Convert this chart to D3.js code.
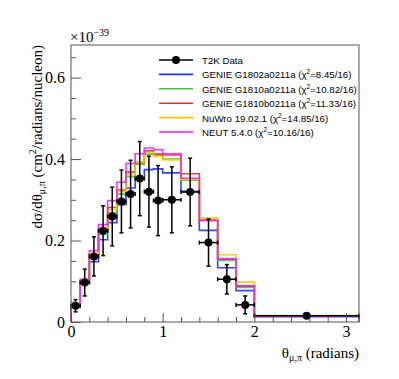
<!DOCTYPE html>
<html><head><meta charset="utf-8">
<script src="https://cdn.jsdelivr.net/npm/d3@7/dist/d3.min.js"></script>
<style>body{margin:0;background:#fff}svg{display:block}</style>
</head><body><svg id="c" width="399" height="379"></svg>
<script>
const binEdges = [0,0.1,0.2,0.3,0.4,0.5,0.6,0.7,0.8,0.9,1.0,1.2,1.4,1.6,1.8,2.0,Math.PI];
const dataValues = [0.040,0.097,0.161,0.224,0.259,0.296,0.314,0.352,0.320,0.298,0.300,0.319,0.195,0.105,0.042,0.0155];
const dataErrors = [0.015,0.033,0.048,0.061,0.072,0.077,0.083,0.091,0.087,0.086,0.081,0.083,0.058,0.036,0.022,0.003];
const genieG1802a = [0.036,0.095,0.148,0.202,0.244,0.288,0.329,0.351,0.374,0.376,0.366,0.321,0.225,0.133,0.077,0.013];
const genieG1810a = [0.038,0.097,0.163,0.215,0.268,0.314,0.357,0.387,0.412,0.410,0.400,0.348,0.250,0.151,0.085,0.014];
const genieG1810b = [0.038,0.098,0.165,0.225,0.281,0.324,0.368,0.391,0.420,0.412,0.410,0.364,0.249,0.155,0.088,0.014];
const nuwro = [0.037,0.098,0.168,0.230,0.276,0.320,0.362,0.393,0.416,0.406,0.398,0.350,0.255,0.165,0.098,0.016];
const neut = [0.042,0.105,0.175,0.239,0.298,0.343,0.389,0.413,0.427,0.423,0.413,0.353,0.249,0.155,0.089,0.015];
const seriesNames = ["GENIE G1802a0211a","GENIE G1810a0211a","GENIE G1810b0211a","NuWro 19.02.1","NEUT 5.4.0"];
const chi2Labels = ["8.45/16","10.82/16","11.33/16","14.85/16","10.16/16"];
const seriesColors = ["#1f2fff","#3cc43c","#e03030","#ffc800","#ee22ee"];
const yTicks = [0,0.2,0.4,0.6];
const xTicks = [0,1,2,3];

const svg = d3.select("#c");
const L=71,R=359,T=45,B=322;
const x = d3.scaleLinear().domain([0,Math.PI]).range([L,R]);
const y = d3.scaleLinear().domain([0,0.68]).range([B,T]);
const serif = "'Liberation Serif','Times New Roman',serif";
const sans = "'Liberation Sans',Arial,Helvetica,sans-serif";

const series = [genieG1802a,genieG1810a,genieG1810b,nuwro,neut];

// histograms
series.forEach((vals,si)=>{
  const pts = [[binEdges[0],0]];
  vals.forEach((v,i)=>{ pts.push([binEdges[i],v]); pts.push([binEdges[i+1],v]); });
  pts.push([binEdges[binEdges.length-1],0]);
  svg.append("path").attr("d", d3.line().x(d=>x(d[0])).y(d=>y(d[1]))(pts))
    .attr("fill","none").attr("stroke",seriesColors[si]).attr("stroke-width",1.6).attr("stroke-opacity",0.9);
});

// data points
const dg = svg.append("g").attr("stroke","#000").attr("stroke-width",1.5);
dataValues.forEach((v,i)=>{
  const x0=x(binEdges[i]), x1=x(binEdges[i+1]), xc=(x0+x1)/2;
  const yc=y(v), ylo=y(v-dataErrors[i]), yhi=y(v+dataErrors[i]);
  const cap=2;
  dg.append("line").attr("x1",x0).attr("x2",x1).attr("y1",yc).attr("y2",yc);
  dg.append("line").attr("x1",x0).attr("x2",x0).attr("y1",yc-cap).attr("y2",yc+cap);
  dg.append("line").attr("x1",x1).attr("x2",x1).attr("y1",yc-cap).attr("y2",yc+cap);
  dg.append("line").attr("x1",xc).attr("x2",xc).attr("y1",ylo).attr("y2",yhi);
  dg.append("line").attr("x1",xc-cap).attr("x2",xc+cap).attr("y1",ylo).attr("y2",ylo);
  dg.append("line").attr("x1",xc-cap).attr("x2",xc+cap).attr("y1",yhi).attr("y2",yhi);
  svg.append("circle").attr("cx",xc).attr("cy",yc).attr("r",4).attr("fill","#000");
});

// frame
svg.append("rect").attr("x",L).attr("y",T).attr("width",R-L).attr("height",B-T)
  .attr("fill","none").attr("stroke","#555").attr("stroke-width",1);

// axes
const yMinor = d3.range(0.05,0.68,0.05).filter(v=>Math.abs(v/0.2-Math.round(v/0.2))>1e-6);
svg.append("g").attr("transform",`translate(${L},0)`)
  .call(d3.axisLeft(y).tickValues(yMinor).tickSize(-5).tickFormat(""))
  .call(g=>g.select(".domain").remove()).selectAll("line").attr("stroke","#555");
const ya = svg.append("g").attr("transform",`translate(${L},0)`)
  .call(d3.axisLeft(y).tickValues(yTicks).tickSize(-10).tickPadding(6).tickFormat(d=>d===0?"0":d3.format(".1f")(d)));
ya.select(".domain").remove();
ya.selectAll("line").attr("stroke","#555");
ya.selectAll("text").attr("font-family",serif).attr("font-size",16).attr("fill","#000");

const xMinor = d3.range(0.2,3.1,0.2).filter(v=>Math.abs(v-Math.round(v))>1e-6);
svg.append("g").attr("transform",`translate(0,${B})`)
  .call(d3.axisBottom(x).tickValues(xMinor).tickSize(-5).tickFormat(""))
  .call(g=>g.select(".domain").remove()).selectAll("line").attr("stroke","#555");
const xa = svg.append("g").attr("transform",`translate(0,${B})`)
  .call(d3.axisBottom(x).tickValues(xTicks).tickSize(-9).tickPadding(4).tickFormat(d3.format("d")));
xa.select(".domain").remove();
xa.selectAll("line").attr("stroke","#555");
xa.selectAll("text").attr("font-family",serif).attr("font-size",16).attr("fill","#000");

// exponent
const ex = svg.append("text").attr("x",L-1).attr("y",42).attr("font-family",serif).attr("font-size",15);
ex.append("tspan").text("×10");
ex.append("tspan").attr("dy",-6).attr("font-size",10).text("−39");

// axis titles
const xt = svg.append("text").attr("x",R).attr("y",358).attr("text-anchor","end").attr("font-family",serif).attr("font-size",15);
xt.append("tspan").text("θ");
xt.append("tspan").attr("font-size",10).attr("dy",3).text("μ,π");
xt.append("tspan").attr("dy",-3).text(" (radians)");

const yt = svg.append("text").attr("transform",`translate(42,${T}) rotate(-90)`).attr("text-anchor","end")
  .attr("font-family",serif).attr("font-size",15);
yt.append("tspan").text("dσ/dθ");
yt.append("tspan").attr("font-size",10).attr("dy",3).text("μ,π");
yt.append("tspan").attr("dy",-3).text(" (cm");
yt.append("tspan").attr("font-size",10).attr("dy",-6).text("2");
yt.append("tspan").attr("dy",6).text("/radians/nucleon)");

// legend
const lx0=159, lx1=193, tx=202, ly0=60, lstep=14.4;
const lfs = 9.7;
const lg = svg.append("g");
lg.append("line").attr("x1",lx0).attr("x2",lx1).attr("y1",ly0).attr("y2",ly0).attr("stroke","#000").attr("stroke-width",1.5);
lg.append("circle").attr("cx",(lx0+lx1)/2).attr("cy",ly0).attr("r",4).attr("fill","#000");
lg.append("text").attr("x",tx).attr("y",ly0+4).attr("font-family",sans).attr("font-size",lfs).text("T2K Data");
seriesNames.forEach((n,i)=>{
  const yy = ly0+lstep*(i+1);
  lg.append("line").attr("x1",lx0).attr("x2",lx1).attr("y1",yy).attr("y2",yy).attr("stroke",seriesColors[i]).attr("stroke-width",1.6);
  const t = lg.append("text").attr("x",tx).attr("y",yy+4).attr("font-family",sans).attr("font-size",lfs);
  t.append("tspan").text(n+" (χ");
  t.append("tspan").attr("font-size",6.5).attr("dy",-4).text("2");
  t.append("tspan").attr("dy",4).text("="+chi2Labels[i]+")");
});
</script></body></html>
